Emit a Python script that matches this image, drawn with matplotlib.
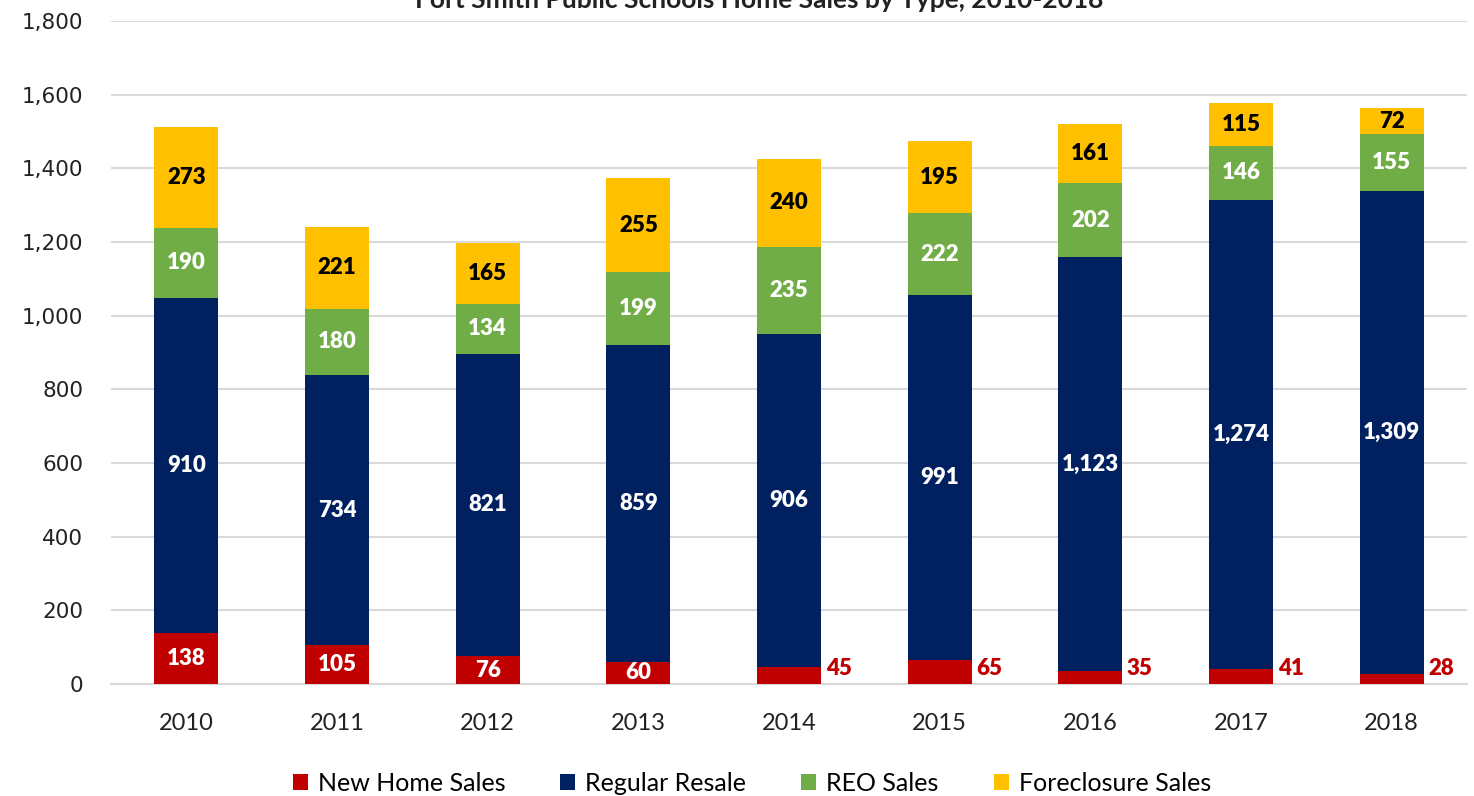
import matplotlib
matplotlib.use("Agg")
import matplotlib.pyplot as plt
import numpy as np
from matplotlib.ticker import FuncFormatter

years = ["2010", "2011", "2012", "2013", "2014", "2015", "2016", "2017", "2018"]
new_home = [138, 105, 76, 60, 45, 65, 35, 41, 28]
regular = [910, 734, 821, 859, 906, 991, 1123, 1274, 1309]
reo = [190, 180, 134, 199, 235, 222, 202, 146, 155]
foreclosure = [273, 221, 165, 255, 240, 195, 161, 115, 72]
series_names = ["New Home Sales", "Regular Resale", "REO Sales", "Foreclosure Sales"]
colors = ["#C00000", "#002060", "#70AD47", "#FFC000"]
label_colors = ["white", "white", "white", "black"]
title = "Fort Smith Public Schools Home Sales by Type, 2010-2018"

plt.rcParams['font.family'] = ['Lato', 'DejaVu Sans']

fig = plt.figure(figsize=(14.74, 7.96), dpi=100)
ax = fig.add_axes([0.0753, 0.1407, 0.920, 0.833])

x = np.arange(len(years))
width = 0.425
outside_first = 4  # New Home labels from this year onward sit beside the bar
series = [new_home, regular, reo, foreclosure]
bottom = np.zeros(len(years))
for k, (vals, c, lc, name) in enumerate(zip(series, colors, label_colors, series_names)):
    vals = np.array(vals, dtype=float)
    ax.bar(x, vals, width, bottom=bottom, color=c, label=name, zorder=3)
    for i, (v, b) in enumerate(zip(vals, bottom)):
        txt = f"{int(v):,}"
        if k == 0 and i >= outside_first:
            ax.text(x[i] + width / 2 + 0.03, 42, txt, ha='left', va='center',
                    color="#C00000", fontsize=16, fontweight='heavy', zorder=4)
        else:
            ax.text(x[i], b + v / 2, txt, ha='center', va='center',
                    color=lc, fontsize=16, fontweight='heavy', zorder=4)
    bottom = bottom + vals

ax.set_xlim(-0.5, len(years) - 0.5)
ax.set_ylim(0, 1800)
ax.set_yticks(np.arange(0, 1801, 200))
ax.yaxis.set_major_formatter(FuncFormatter(lambda v, p: f"{int(v):,}"))
ax.set_xticks(x)
ax.set_xticklabels(years)
ax.tick_params(axis='both', length=0, labelsize=17, colors='#222222')
ax.tick_params(axis='x', pad=21)
ax.tick_params(axis='y', pad=20)
for lbl in ax.get_yticklabels():
    lbl.set_fontfamily(['DejaVu Sans'])
    lbl.set_fontsize(15.5)
ax.grid(axis='y', color='#D9D9D9', linewidth=1.5, zorder=0)
for s in ['top', 'right', 'left']:
    ax.spines[s].set_visible(False)
ax.spines['bottom'].set_color('#D9D9D9')
ax.spines['bottom'].set_linewidth(1.5)

fig.text(0.515, 1.0, title, ha='center', va='center', fontsize=19, fontweight='bold', color='#222222')

leg = fig.legend(loc='lower center', bbox_to_anchor=(0.51, -0.027), ncol=4, frameon=False,
                 fontsize=18, handlelength=0.6, handleheight=0.6, handletextpad=0.4, columnspacing=2.2)

fig.savefig("out.png", dpi=100)
